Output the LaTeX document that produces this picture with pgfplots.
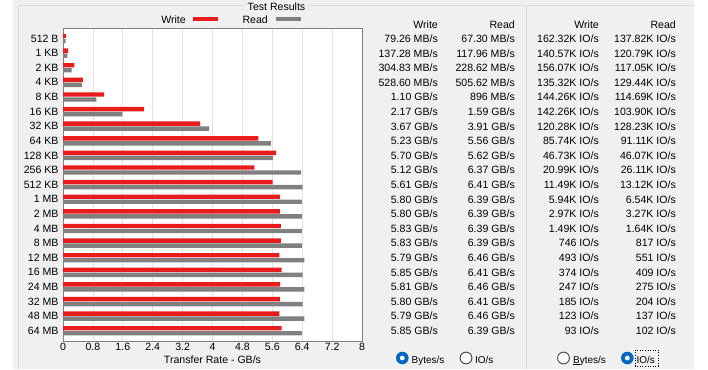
\documentclass[border=0pt]{standalone}
\usepackage{pgfplots}
\pgfplotsset{compat=1.18}
\usepackage{fontspec}
\setmainfont{Liberation Sans}
\definecolor{attored}{HTML}{E81C1C}
\definecolor{attogray}{HTML}{808080}
\definecolor{panel}{HTML}{F0F0F0}
\definecolor{boxline}{HTML}{DCDCDC}
\definecolor{gridc}{HTML}{E3E3E3}
\definecolor{radioblue}{HTML}{0067C0}
\newcommand\fs{\fontsize{10.6}{12}\selectfont}
\newcommand\trow[5]{%
  \node[anchor=base east,inner sep=0] at (438,{326.6-14.6*#1}) {\fs #2};
  \node[anchor=base east,inner sep=0] at (515,{326.6-14.6*#1}) {\fs #3};
  \node[anchor=base east,inner sep=0] at (599,{326.6-14.6*#1}) {\fs #4};
  \node[anchor=base east,inner sep=0] at (676,{326.6-14.6*#1}) {\fs #5};}
\begin{document}
\begin{tikzpicture}
\begin{scope}[x=1bp,y=1bp]
\useasboundingbox (0,0) rectangle (708,369);
\fill[white] (0,0) rectangle (708,369);
\fill[panel] (13,0) rectangle (694,369);
% group box lines
\draw[boxline,line width=1bp] (18,0) -- (18,363) -- (245,363);
\draw[boxline,line width=1bp] (308,363) -- (694,363);
\draw[boxline,line width=1bp] (526,0) -- (526,363);
\node[anchor=base,inner sep=0] at (276.5,358.5) {\fs Test Results};
% legend
\node[anchor=base east,inner sep=0] at (186,346) {\fs Write};
\fill[attored] (193,347.5) rectangle (218,352);
\node[anchor=base east,inner sep=0] at (268,346) {\fs Read};
\fill[attogray] (276,347.5) rectangle (301,352);
\end{scope}
\begin{axis}[
  at={(63bp,28bp)}, anchor=south west,
  scale only axis, width=299bp, height=313bp,
  xmin=0, xmax=8, ymin=-0.72, ymax=20.7, y dir=reverse,
  xbar, bar width=4.4bp,
  axis background/.style={fill=white},
  axis line style={draw=attogray, line width=0.8bp},
  xtick={0,0.8,1.6,2.4,3.2,4,4.8,5.6,6.4,7.2,8},
  xticklabels={0,0.8,1.6,2.4,3.2,4,4.8,5.6,6.4,7.2,8},
  ytick={0,...,20},
  yticklabels={512 B,1 KB,2 KB,4 KB,8 KB,16 KB,32 KB,64 KB,128 KB,256 KB,512 KB,1 MB,2 MB,4 MB,8 MB,12 MB,16 MB,24 MB,32 MB,48 MB,64 MB},
  major tick length=0,
  xmajorgrids, grid style={draw=gridc, line width=0.8bp},
  tick label style={font=\fs},
  yticklabel style={xshift=-1bp},
  xticklabel style={yshift=1bp},
  xlabel={Transfer Rate - GB/s},
  xlabel style={font=\fs, yshift=1.5bp},
  /pgf/number format/assume math mode=true,
]
\addplot[fill=attored, draw=none, bar shift=2.5bp] coordinates {
(0.07926,0) (0.13728,1) (0.30483,2) (0.5286,3) (1.10,4) (2.17,5) (3.67,6)
(5.23,7) (5.70,8) (5.12,9) (5.61,10) (5.80,11) (5.80,12) (5.83,13) (5.83,14)
(5.79,15) (5.85,16) (5.81,17) (5.80,18) (5.79,19) (5.85,20)};
\addplot[fill=attogray, draw=none, bar shift=-2.5bp] coordinates {
(0.0673,0) (0.11796,1) (0.22862,2) (0.50562,3) (0.896,4) (1.59,5) (3.91,6)
(5.56,7) (5.62,8) (6.37,9) (6.41,10) (6.39,11) (6.39,12) (6.39,13) (6.39,14)
(6.46,15) (6.41,16) (6.46,17) (6.41,18) (6.46,19) (6.39,20)};
\end{axis}
\begin{scope}[x=1bp,y=1bp]
% tables
\node[anchor=base east,inner sep=0] at (438,341) {\fs Write};
\node[anchor=base east,inner sep=0] at (515,341) {\fs Read};
\node[anchor=base east,inner sep=0] at (599,341) {\fs Write};
\node[anchor=base east,inner sep=0] at (676,341) {\fs Read};
\trow{0}{79.26 MB/s}{67.30 MB/s}{162.32K IO/s}{137.82K IO/s}
\trow{1}{137.28 MB/s}{117.96 MB/s}{140.57K IO/s}{120.79K IO/s}
\trow{2}{304.83 MB/s}{228.62 MB/s}{156.07K IO/s}{117.05K IO/s}
\trow{3}{528.60 MB/s}{505.62 MB/s}{135.32K IO/s}{129.44K IO/s}
\trow{4}{1.10 GB/s}{896 MB/s}{144.26K IO/s}{114.69K IO/s}
\trow{5}{2.17 GB/s}{1.59 GB/s}{142.26K IO/s}{103.90K IO/s}
\trow{6}{3.67 GB/s}{3.91 GB/s}{120.28K IO/s}{128.23K IO/s}
\trow{7}{5.23 GB/s}{5.56 GB/s}{85.74K IO/s}{91.11K IO/s}
\trow{8}{5.70 GB/s}{5.62 GB/s}{46.73K IO/s}{46.07K IO/s}
\trow{9}{5.12 GB/s}{6.37 GB/s}{20.99K IO/s}{26.11K IO/s}
\trow{10}{5.61 GB/s}{6.41 GB/s}{11.49K IO/s}{13.12K IO/s}
\trow{11}{5.80 GB/s}{6.39 GB/s}{5.94K IO/s}{6.54K IO/s}
\trow{12}{5.80 GB/s}{6.39 GB/s}{2.97K IO/s}{3.27K IO/s}
\trow{13}{5.83 GB/s}{6.39 GB/s}{1.49K IO/s}{1.64K IO/s}
\trow{14}{5.83 GB/s}{6.39 GB/s}{746 IO/s}{817 IO/s}
\trow{15}{5.79 GB/s}{6.46 GB/s}{493 IO/s}{551 IO/s}
\trow{16}{5.85 GB/s}{6.41 GB/s}{374 IO/s}{409 IO/s}
\trow{17}{5.81 GB/s}{6.46 GB/s}{247 IO/s}{275 IO/s}
\trow{18}{5.80 GB/s}{6.41 GB/s}{185 IO/s}{204 IO/s}
\trow{19}{5.79 GB/s}{6.46 GB/s}{123 IO/s}{137 IO/s}
\trow{20}{5.85 GB/s}{6.39 GB/s}{93 IO/s}{102 IO/s}
% radio buttons
\fill[radioblue] (402.3,11) circle (6.3);
\fill[white] (402.3,11) circle (2.4);
\node[anchor=base west,inner sep=0] at (411.5,6) {\fontsize{10}{12}\selectfont Bytes/s};
\filldraw[fill=white,draw=black!75,line width=0.9bp] (466,11) circle (5.9);
\node[anchor=base west,inner sep=0] at (475,6) {\fontsize{10}{12}\selectfont IO/s};
\filldraw[fill=white,draw=black!75,line width=0.9bp] (563.5,11) circle (5.9);
\node[anchor=base west,inner sep=0] at (573,6) {\fontsize{10}{12}\selectfont \underline{B}ytes/s};
\fill[radioblue] (627.3,11) circle (6.3);
\fill[white] (627.3,11) circle (2.4);
\node[anchor=base west,inner sep=0] at (636.5,6) {\fontsize{10}{12}\selectfont IO/s};
\draw[black,dotted,line width=0.6bp] (635,3) rectangle (658,19);
\end{scope}
\end{tikzpicture}
\end{document}
